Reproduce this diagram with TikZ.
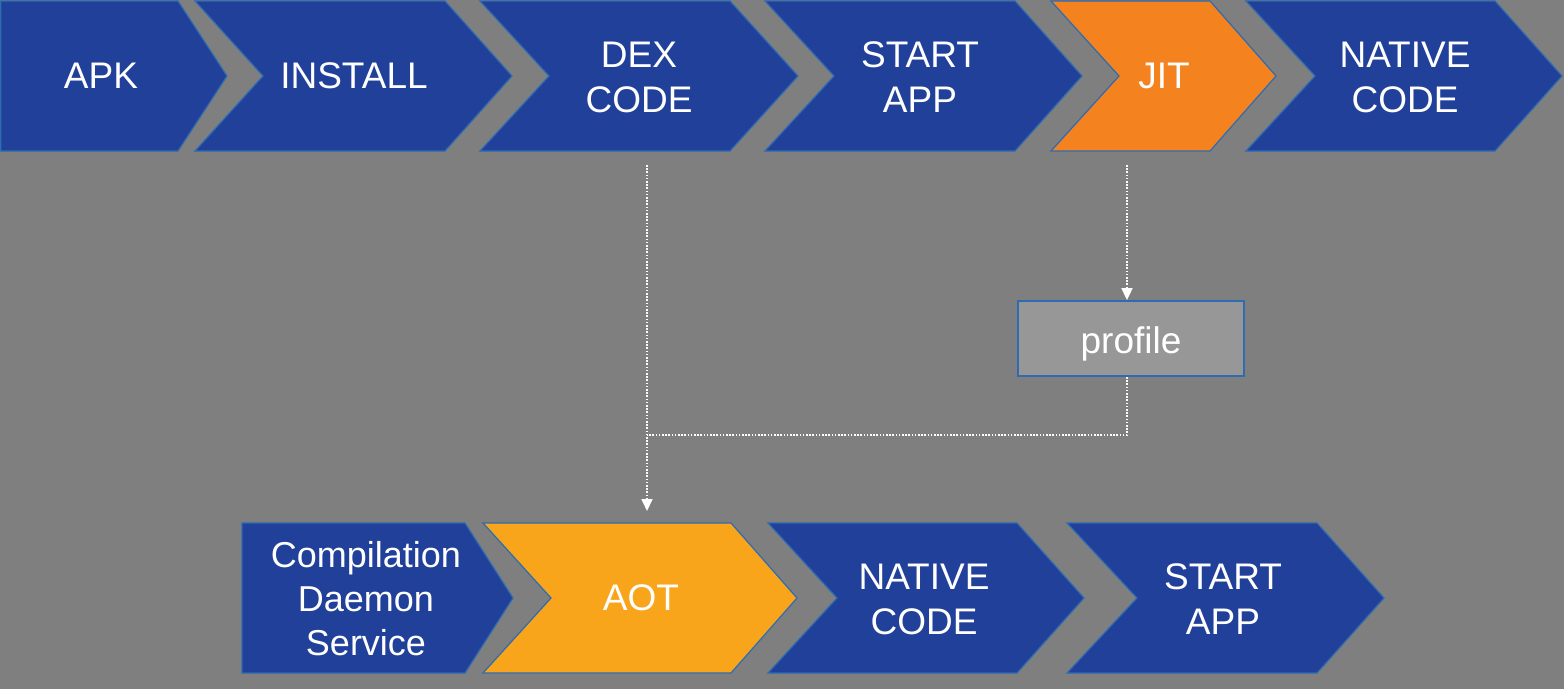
\documentclass[tikz,border=0pt]{standalone}
\usepackage{fontspec}
\setmainfont{Liberation Sans}
\usetikzlibrary{arrows.meta}
\definecolor{bg}{HTML}{7F7F7F}
\definecolor{cblue}{HTML}{21409A}
\definecolor{cedge}{HTML}{2E6BB0}
\definecolor{corange}{HTML}{F4831F}
\definecolor{camber}{HTML}{F8A51B}
\definecolor{cprof}{HTML}{979797}
% #1 style, #2 top-left x, #3 notch x, #4 top-right x, #5 tip x, #6 top y, #7 bottom y
\newcommand{\chevshape}[7]{%
  \path[#1] (#2,#6) -- (#4,#6) -- (#5,{(#6+#7)/2}) -- (#4,#7) -- (#2,#7) -- (#3,{(#6+#7)/2}) -- cycle;}
\begin{document}
\begin{tikzpicture}[x=1pt,y=-1pt,
  chev/.style={fill=cblue,draw=cedge,line width=1.2pt,line join=miter},
  lbl/.style={text=white,font=\fontsize{37}{45}\selectfont,align=center,inner sep=0pt},
  flow/.style={draw=white,line width=1.7pt,dash pattern=on 1.6pt off 1.6pt},
  tipend/.style={-{Triangle[length=12pt,width=11pt]}}]
\fill[bg] (0,0) rectangle (1564,689);
\useasboundingbox (0,0) rectangle (1564,689);
% top row
\chevshape{chev}{0.8}{0.8}{178}{227}{1}{151}
\chevshape{chev}{195}{263}{445}{512}{1}{151}
\chevshape{chev}{480}{549}{730}{798}{1}{151}
\chevshape{chev}{765}{834}{1015}{1082}{1}{151}
\chevshape{chev,fill=corange}{1051}{1119}{1210}{1276}{1}{151}
\chevshape{chev}{1246}{1315}{1495}{1562}{1}{151}
% bottom row
\chevshape{chev}{242}{242}{465}{513}{523}{673}
\chevshape{chev,fill=camber}{483}{551}{731}{797}{523}{673}
\chevshape{chev}{768}{837}{1017}{1084}{523}{673}
\chevshape{chev}{1067}{1137}{1317}{1384}{523}{673}
% labels
\node[lbl] (apk) at (101,76) {APK};
\node[lbl] (install) at (354,76) {INSTALL};
\node[lbl] (dex) at (639,77) {DEX\\CODE};
\node[lbl] (start) at (920,77) {START\\APP};
\node[lbl] (jit) at (1164,76) {JIT};
\node[lbl] (native) at (1405,77) {NATIVE\\CODE};
\node[lbl,font=\fontsize{36}{44}\selectfont] (cds) at (366,599) {Compilation\\Daemon\\Service};
\node[lbl] (aot) at (641,598) {AOT};
\node[lbl] (native2) at (924,599) {NATIVE\\CODE};
\node[lbl] (start2) at (1223,599) {START\\APP};
\node[draw=cedge,fill=cprof,line width=1.8pt,minimum width=226pt,minimum height=75pt,
  inner sep=0pt,text height=29pt,text depth=0pt,text=white,font=\fontsize{37}{45}\selectfont] (profile) at (1131,338.5) {profile};
% connectors
\coordinate (dexout) at (647,165);
\coordinate (aotin) at (647,511);
\coordinate (jitout) at (1127,165);
\coordinate (join) at (647,435);
\draw[flow,tipend] (dexout) -- (aotin);
\draw[flow,tipend] (jitout) -- (jitout |- profile.north);
\draw[flow] (jitout |- profile.south) -- (jitout |- join) -- (join);
\end{tikzpicture}
\end{document}
